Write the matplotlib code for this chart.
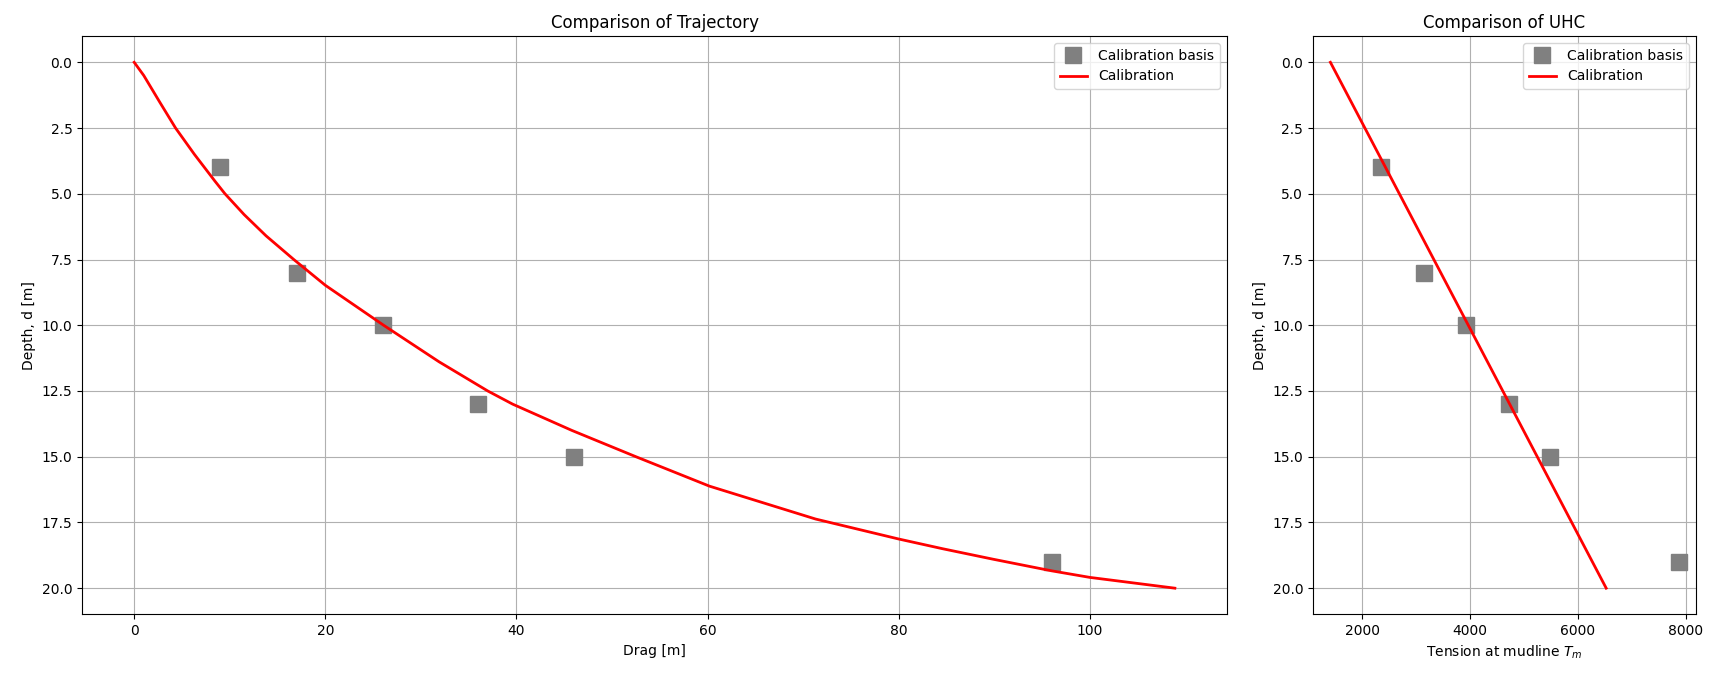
import numpy as np
import matplotlib
matplotlib.use("Agg")
import matplotlib.pyplot as plt
from matplotlib.ticker import MultipleLocator

# -----------------------------
# Calibration basis (measured points)
# -----------------------------

basis_depth = [4, 8, 10, 13, 15, 19]
basis_drag = [9, 17, 26, 36, 46, 96]
basis_tension = [2355, 3140, 3925, 4715, 5487, 7865]

# -----------------------------
# Calibrated trajectory
# -----------------------------

calib_depth = [0, 0.5, 1.5, 2.5, 3.5, 4.52, 5.0, 5.79, 6.6, 7.5, 8.48,
               10, 11.39, 12.5, 13.0, 14, 15, 16.12, 17.37, 18.13, 18.5,
               18.9, 19.34, 19.59, 20]
calib_drag = [0, 1.0, 2.65, 4.33, 6.3, 8.45, 9.5, 11.5, 13.8, 16.7, 20.0,
              26.1, 31.9, 37.0, 39.6, 45.8, 52.5, 60.2, 71.3, 80.0, 84.6,
              89.9, 96.0, 100.0, 108.9]

# Calibrated UHC line
uhc_depth = [0, 20]
uhc_tension = [1413, 6524]

# -----------------------------
# Figure
# -----------------------------

fig = plt.figure(figsize=(17.15, 6.78), dpi=100)
ax1 = fig.add_axes([0.0479, 0.0937, 0.6675, 0.8532])
ax2 = fig.add_axes([0.7656, 0.0937, 0.2233, 0.8532])

ax1.plot(basis_drag, basis_depth, 's', color='grey', ms=12, label='Calibration basis')
ax1.plot(calib_drag, calib_depth, '-', color='red', lw=2, label='Calibration')
ax1.invert_yaxis()
ax1.grid(True)
ax1.set_title("Comparison of Trajectory")
ax1.set_xlabel("Drag [m]")
ax1.set_ylabel("Depth, d [m]")
ax1.legend(loc='upper right')

ax2.plot(basis_tension, basis_depth, 's', color='grey', ms=12, label='Calibration basis')
ax2.plot(uhc_tension, uhc_depth, '-', color='red', lw=2, label='Calibration')
ax2.invert_yaxis()
ax2.xaxis.set_major_locator(MultipleLocator(2000))
ax2.grid(True)
ax2.set_title("Comparison of UHC")
ax2.set_xlabel("Tension at mudline $T_m$")
ax2.set_ylabel("Depth, d [m]")
ax2.legend(loc='upper right')

fig.savefig("out.png", dpi=100)
